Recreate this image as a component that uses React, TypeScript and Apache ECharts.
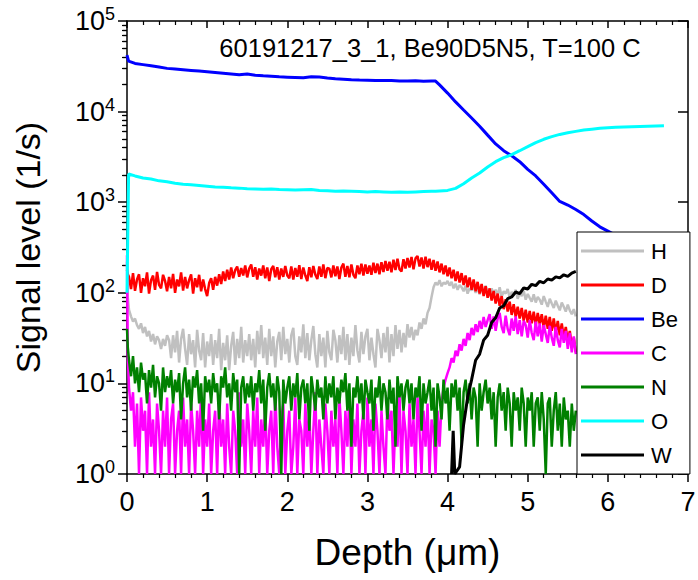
import React, { useEffect, useRef } from "react";
import * as echarts from "echarts";

const FONT = "Liberation Sans, Arial, sans-serif";

// shared depth sampling (um) for H, D, C, N: 0, 0.01, then every 0.025 um up to 5.6
const depthStep = 0.025;
const depthCount = 224;
const depth = [0, 0.01, ...Array.from({ length: depthCount }, (_, i) => +((i + 1) * depthStep).toFixed(3))];

const hValues = [
  220, 90,
  65, 55, 48, 52, 44, 40, 46, 36, 42, 33, 38, 29, 35, 27, 33, 30, 24, 31, 26, 34,
  30, 19, 34, 22, 38, 17, 31, 40, 24, 16, 35, 21, 30, 15, 39, 23, 18, 36, 15, 29,
  20, 35, 16, 30, 19, 40, 14, 28, 18, 34, 14, 26, 37, 16, 31, 19, 42, 17, 30, 20,
  35, 18, 31, 15, 38, 21, 44, 19, 32, 16, 40, 20, 33, 15, 29, 37, 18, 42, 21, 31,
  17, 34, 41, 20, 16, 33, 22, 45, 19, 36, 18, 30, 43, 21, 15, 35, 20, 32, 15, 38,
  22, 18, 39, 30, 17, 34, 21, 42, 18, 35, 16, 32, 20, 44, 23, 17, 37, 21, 33, 40,
  18, 32, 21, 15, 40, 30, 19, 36, 22, 42, 17, 35, 20, 44, 24, 39, 22, 36, 25, 45,
  32, 42, 30, 39, 34, 47, 40, 52, 45, 60, 68, 90, 115, 130, 122, 138, 118, 130, 125, 135,
  120, 132, 112, 126, 108, 122, 115, 104, 120, 98, 112, 106, 118, 100, 113, 96, 110, 104, 120, 102,
  92, 112, 98, 108, 94, 115, 90, 104, 98, 110, 88, 102, 95, 108, 86, 99, 92, 105, 84, 97,
  88, 80, 96, 78, 90, 84, 74, 92, 80, 70, 86, 76, 68, 82, 72, 64, 78, 70, 62, 74,
  64, 58, 66, 55,
];

const dValues = [
  180, 160,
  150, 110, 165, 105, 140, 160, 100, 145, 118, 168, 98, 138, 155, 108, 170, 122, 112, 158, 135, 104,
  150, 112, 162, 100, 140, 118, 168, 106, 150, 112, 138, 160, 98, 145, 115, 158, 104, 140, 110, 92,
  128, 145, 108, 150, 120, 160, 125, 172, 135, 180, 140, 190, 145, 178, 195, 150, 188, 155, 200, 148,
  185, 205, 150, 192, 140, 185, 155, 200, 145, 190, 135, 182, 198, 148, 192, 140, 185, 150, 198, 155,
  145, 195, 140, 188, 150, 202, 142, 190, 155, 135, 192, 148, 198, 158, 142, 195, 150, 205, 145, 188,
  185, 148, 200, 152, 195, 142, 190, 210, 150, 198, 148, 205, 158, 145, 200, 160, 210, 155, 205, 162,
  200, 158, 215, 165, 210, 160, 218, 170, 225, 175, 220, 168, 232, 178, 238, 182, 172, 235, 185, 242,
  190, 248, 182, 240, 255, 195, 245, 185, 250, 192, 238, 180, 230, 175, 222, 168, 210, 160, 200, 152,
  190, 145, 180, 135, 172, 130, 165, 122, 155, 115, 148, 108, 140, 104, 132, 98, 125, 92, 118, 88,
  112, 82, 105, 76, 98, 72, 92, 66, 85, 62, 80, 57, 75, 54, 70, 52, 68, 49, 65, 47,
  63, 46, 62, 44, 60, 45, 58, 41, 56, 40, 54, 38, 52, 36, 49, 34, 46, 32, 42, 29,
  38, 26, 32, 22,
];

const cValues = [
  260, 20,
  9, 5, 8, 2, 6, 1, 7, 3, 5, 1, 8, 2, 4, 1, 6, 3, 1, 5, 2, 7,
  1, 4, 6, 1, 3, 5, 1, 7, 2, 4, 1, 6, 3, 1, 5, 2, 8, 1, 4, 2,
  6, 1, 3, 5, 1, 7, 2, 4, 1, 6, 2, 1, 5, 3, 1, 8, 2, 4, 1, 6,
  3, 1, 5, 2, 7, 1, 4, 2, 6, 1, 3, 5, 1, 8, 2, 1, 4, 6, 1, 3,
  5, 1, 2, 7, 1, 4, 3, 1, 6, 2, 5, 1, 3, 8, 1, 4, 2, 1, 6, 3,
  1, 5, 2, 4, 1, 7, 3, 1, 5, 2, 8, 1, 4, 2, 6, 1, 3, 5, 1, 7,
  2, 4, 1, 6, 3, 1, 5, 2, 1, 7, 3, 5, 1, 4, 2, 8, 1, 5, 3, 1,
  6, 2, 4, 1, 7, 3, 1, 5, 2, 6, 1, 4, 3, 1, 5, 2, 6, 9, 11, 13,
  15, 19, 17, 23, 20, 27, 23, 31, 26, 36, 30, 41, 34, 45, 37, 49, 40, 54, 42, 50,
  58, 40, 55, 38, 52, 60, 42, 36, 56, 40, 34, 52, 38, 55, 35, 50, 33, 49, 44, 32,
  50, 36, 30, 48, 33, 46, 29, 44, 35, 28, 43, 32, 26, 42, 30, 25, 40, 28, 38, 24,
  36, 22, 33, 21,
];

const nValues = [
  40, 25,
  18, 12, 20, 10, 15, 8, 17, 11, 13, 6, 14, 9, 16, 7, 12, 10, 5, 15, 8, 12,
  9, 14, 6, 11, 8, 13, 4, 10, 15, 7, 11, 5, 12, 9, 14, 6, 10, 3, 12, 8,
  11, 6, 13, 8, 10, 4, 12, 9, 15, 7, 10, 5, 13, 8, 11, 1, 9, 12, 6, 10,
  7, 12, 5, 10, 8, 14, 6, 11, 3, 9, 13, 7, 10, 5, 12, 8, 1, 11, 6, 9,
  12, 5, 10, 7, 13, 4, 9, 11, 6, 10, 3, 12, 8, 5, 11, 7, 9, 4, 12, 6,
  10, 7, 12, 4, 9, 6, 11, 8, 13, 5, 10, 2, 9, 7, 12, 6, 10, 4, 11, 8,
  6, 11, 3, 9, 7, 12, 5, 10, 8, 4, 11, 6, 9, 2, 12, 7, 10, 5, 9, 11,
  6, 10, 4, 9, 7, 12, 3, 10, 6, 8, 11, 5, 9, 2, 10, 7, 4, 11, 6, 9,
  3, 10, 7, 11, 5, 9, 2, 8, 11, 6, 10, 4, 9, 7, 2, 10, 5, 8, 11, 6,
  9, 4, 8, 2, 7, 10, 5, 8, 3, 9, 6, 2, 8, 5, 7, 3, 9, 6, 2, 7,
  5, 8, 2, 6, 7, 3, 8, 4, 1, 6, 7, 2, 5, 8, 3, 6, 2, 7, 4, 5,
  2, 6, 3, 5,
];

// Be and O depth grid (um)
const beoDepth = [
  0, 0.02,
  0.1, 0.2, 0.3, 0.4, 0.5, 0.6, 0.7, 0.8, 0.9, 1.0,
  1.1, 1.2, 1.3, 1.4, 1.5, 1.6, 1.7, 1.8, 1.9, 2.0,
  2.1, 2.2, 2.3, 2.4, 2.5, 2.6, 2.7, 2.8, 2.9, 3.0,
  3.1, 3.2, 3.3, 3.4, 3.5, 3.6, 3.7, 3.8,
  3.85,
  3.9, 4.0, 4.1, 4.2, 4.3, 4.4, 4.5, 4.6, 4.7, 4.8,
  4.9, 5.0, 5.1, 5.2, 5.3, 5.4, 5.5, 5.6, 5.7, 5.8,
  5.9, 6.0, 6.1, 6.2, 6.3, 6.4, 6.5, 6.6, 6.7,
];

const beValues = [
  42000, 36000,
  34000, 33000, 32000, 31000, 30000, 29500, 29000, 28500, 28000, 27500,
  27000, 26500, 26000, 25500, 26000, 25200, 24800, 24500, 24200, 24000,
  23800, 23600, 24200, 24100, 23500, 23000, 22800, 22500, 22300, 22200,
  22000, 22100, 22000, 21800, 21700, 21900, 21600, 21800,
  21700,
  19700, 16000, 12800, 10400, 8500, 6900, 5500, 4400, 3700, 3250,
  2800, 2300, 1950, 1580, 1270, 1020, 930, 830, 730, 620,
  535, 480, 430, 385, 345, 310, 285, 260, 240,
];

const oValues = [
  100, 2050,
  1950, 1850, 1800, 1720, 1680, 1620, 1580, 1560, 1530, 1500,
  1470, 1460, 1440, 1430, 1410, 1400, 1390, 1400, 1380, 1370,
  1360, 1370, 1380, 1350, 1340, 1320, 1330, 1320, 1310, 1300,
  1310, 1300, 1290, 1300, 1290, 1300, 1310, 1320,
  1320,
  1330, 1350, 1420, 1600, 1850, 2100, 2450, 2800, 3100, 3350,
  3700, 4100, 4550, 4950, 5300, 5600, 5850, 6050, 6250, 6400,
  6550, 6650, 6700, 6750, 6800, 6850, 6900, 6950, 7000,
];

// W depth grid (um)
const wDepth = [
  4.05, 4.07, 4.09, 4.15,
  4.2, 4.25, 4.3, 4.35, 4.4, 4.45, 4.5, 4.55, 4.6, 4.65,
  4.7, 4.75, 4.8, 4.85, 4.9, 4.95, 5.0, 5.05, 5.1, 5.15,
  5.2, 5.25, 5.3, 5.35, 5.4, 5.45, 5.5, 5.55, 5.6,
];

const wValues = [
  1, 3, 1, 1.2,
  3.5, 7, 11, 18, 21, 30, 34, 47, 53, 68,
  72, 86, 90, 102, 98, 113, 110, 124, 120, 134,
  129, 142, 138, 150, 146, 158, 152, 165, 172,
];

const seriesNames = ["H", "D", "Be", "C", "N", "O", "W"];
const seriesColors = ["#c0c0c0", "#ff0000", "#0000ff", "#ff00ff", "#008000", "#00ffff", "#000000"];
const seriesWidths = [2.5, 2.5, 3, 2.5, 2.5, 3, 3];

const xTicks = [0, 1, 2, 3, 4, 5, 6, 7];
const yDecades = [0, 1, 2, 3, 4, 5];
const minorMultipliers = [2, 3, 4, 5, 6, 7, 8, 9];

const titleText = "60191217_3_1, Be90D5N5, T=100 C";

function pairs(xs: number[], ys: (number | null)[]) {
  return xs.map((x, i) => [x, ys[i]]);
}

export default function App() {
  const ref = useRef<HTMLDivElement>(null);

  useEffect(() => {
    if (!ref.current) return;
    const chart = echarts.init(ref.current, null, { renderer: "svg" });

    const dataSets = [
      pairs(depth, hValues),
      pairs(depth, dValues),
      pairs(beoDepth, beValues),
      pairs(depth, cValues),
      pairs(depth, nValues),
      pairs(beoDepth, oValues),
      pairs(wDepth, wValues),
    ];

    // minor tick positions in decade (exponent) units for an overlay value axis
    const minorPos: number[] = [];
    yDecades.slice(0, -1).forEach((d) => {
      minorMultipliers.forEach((m) => minorPos.push(d + Math.log10(m)));
    });

    const axisLineStyle = { color: "#000", width: 1.5 };
    const yMin = Math.pow(10, yDecades[0]);
    const yMax = Math.pow(10, yDecades[yDecades.length - 1]);

    const option: any = {
      animation: false,
      textStyle: { fontFamily: FONT, color: "#000" },
      grid: { left: 127, right: 10, top: 21, bottom: 106, containLabel: false, outerBoundsMode: "none" },
      graphic: [
        {
          type: "text",
          x: 430,
          y: 48,
          z: 20,
          style: {
            text: titleText,
            fontSize: 25.5,
            fontFamily: FONT,
            fill: "#000",
            align: "center",
            verticalAlign: "middle",
          },
        },
      ],
      legend: {
        data: seriesNames,
        orient: "vertical",
        left: 577,
        top: 232,
        padding: [8, 12, 8, 4],
        itemGap: 12,
        itemWidth: 63,
        itemHeight: 3,
        icon: "rect",
        backgroundColor: "#fff",
        borderColor: "#000",
        borderWidth: 1,
        z: 50,
        selectedMode: false,
        textStyle: { fontSize: 22, fontFamily: FONT, color: "#000", padding: [0, 0, 0, 2] },
      },
      xAxis: [
        {
          type: "value",
          position: "bottom",
          min: xTicks[0],
          max: xTicks[xTicks.length - 1],
          interval: 1,
          name: "Depth (\u03bcm)",
          nameLocation: "middle",
          nameGap: 60,
          nameTextStyle: { fontSize: 37, color: "#000", fontFamily: FONT },
          axisLine: { show: true, onZero: false, lineStyle: axisLineStyle },
          axisTick: { show: true, inside: false, length: 8, lineStyle: { color: "#000", width: 1.5 } },
          minorTick: { show: true, splitNumber: 5, length: 4, lineStyle: { color: "#000", width: 1.2 } },
          axisLabel: { fontSize: 27, color: "#000", margin: 14, fontFamily: FONT },
          splitLine: { show: false },
          minorSplitLine: { show: false },
        },
        {
          type: "value",
          position: "top",
          min: xTicks[0],
          max: xTicks[xTicks.length - 1],
          interval: 1,
          axisLine: { show: true, onZero: false, lineStyle: axisLineStyle },
          axisTick: { show: true, inside: true, length: 7, lineStyle: { color: "#000", width: 1.5 } },
          minorTick: { show: true, splitNumber: 5, length: 4, lineStyle: { color: "#000", width: 1.2 } },
          axisLabel: { show: false },
          splitLine: { show: false },
        },
      ],
      yAxis: [
        {
          type: "log",
          logBase: 10,
          position: "left",
          min: yMin,
          max: yMax,
          name: "Signal level (1/s)",
          nameLocation: "middle",
          nameGap: 82,
          nameRotate: 90,
          nameTextStyle: { fontSize: 34, color: "#000", fontFamily: FONT },
          axisLine: { show: true, onZero: false, lineStyle: axisLineStyle },
          axisTick: { show: true, inside: false, length: 9, lineStyle: { color: "#000", width: 1.5 } },
          axisLabel: {
            margin: 12,
            formatter: (v: number) => `{b|10}{s|${Math.round(Math.log10(v))}}`,
            rich: {
              b: { fontSize: 27, color: "#000", fontFamily: FONT },
              s: { fontSize: 18, color: "#000", fontFamily: FONT, padding: [0, 0, 14, 0] },
            },
          },
          splitLine: { show: false },
        },
        {
          type: "value",
          position: "left",
          min: yDecades[0],
          max: yDecades[yDecades.length - 1],
          axisLine: { show: false },
          axisTick: {
            show: true,
            inside: false,
            length: 4,
            customValues: minorPos,
            lineStyle: { color: "#000", width: 1.2 },
          },
          axisLabel: { show: false },
          splitLine: { show: false },
        },
        {
          type: "log",
          logBase: 10,
          position: "right",
          min: yMin,
          max: yMax,
          axisLine: { show: true, onZero: false, lineStyle: axisLineStyle },
          axisTick: { show: true, inside: true, length: 10, lineStyle: { color: "#000", width: 1.5 } },
          axisLabel: { show: false },
          splitLine: { show: false },
        },
        {
          type: "value",
          position: "right",
          min: yDecades[0],
          max: yDecades[yDecades.length - 1],
          axisLine: { show: false },
          axisTick: {
            show: true,
            inside: true,
            length: 5,
            customValues: minorPos,
            lineStyle: { color: "#000", width: 1.2 },
          },
          axisLabel: { show: false },
          splitLine: { show: false },
        },
      ],
      series: seriesNames.map((name, i) => ({
        name,
        type: "line",
        xAxisIndex: 0,
        yAxisIndex: 0,
        data: dataSets[i],
        showSymbol: false,
        symbol: "none",
        z: 2 + i * 0.01,
        lineStyle: { color: seriesColors[i], width: seriesWidths[i] },
        itemStyle: { color: seriesColors[i] },
        emphasis: { disabled: true },
        connectNulls: false,
      })),
    };

    chart.setOption(option);
    return () => chart.dispose();
  }, []);

  return <div ref={ref} style={{ width: 698, height: 580, position: "absolute", left: 0, top: 0 }} />;
}
